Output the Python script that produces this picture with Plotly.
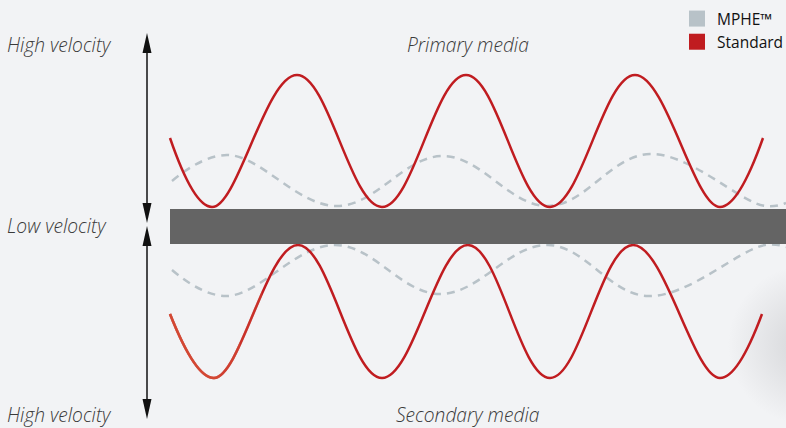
import plotly.graph_objects as go

# ---- data (x position, y position in chart units; y grows downward) ----
std_top_x = [170, 212, 297, 382, 466, 550, 635, 720, 763]
std_top_y = [138, 207, 75, 207, 75, 207, 75, 207, 138]

std_bot_x = [170, 214, 298, 382, 468, 550, 633, 720, 762]
std_bot_y = [314, 378, 245, 378, 245, 378, 245, 378, 314]

mphe_top_x = [172, 227, 337, 443, 548, 650, 765, 786]
mphe_top_y = [181, 155, 206, 156, 206, 154, 206, 203]

mphe_bot_x = [172, 226, 335, 440, 548, 648, 765, 786]
mphe_bot_y = [270, 296, 245, 294, 245, 296, 245, 247]

barrier_x = [170, 786]
barrier_y = [209, 244]

series_names = ["MPHE™", "Standard"]
side_labels = ["High velocity", "Low velocity", "High velocity"]
media_labels = ["Primary media", "Secondary media"]

# ---- styles ----
W, H = 786, 428
BG = "#f2f3f5"
RED = "#c01c20"
ORANGE = "#dc5a3c"
GREY = "#b8c2c8"
BAR = "#646464"
TXT = "#3a3a3a"
FONT = "Open Sans"
SMOOTH = 1.1

fig = go.Figure()

# soft shadow on the right
fig.add_trace(go.Scatter(
    x=[808], y=[345], mode="markers", showlegend=False, hoverinfo="skip",
    marker=dict(size=160, color=BG, line=dict(width=0),
                gradient=dict(type="radial", color="#d4d5d8")),
))

# barrier
fig.add_shape(type="rect", x0=barrier_x[0], x1=barrier_x[1], y0=barrier_y[0], y1=barrier_y[1],
              fillcolor=BAR, line=dict(width=0), layer="above")

line_common = dict(mode="lines", showlegend=False, hoverinfo="skip")
fig.add_trace(go.Scatter(x=mphe_top_x, y=mphe_top_y, line=dict(color=GREY, width=2.5, dash="8px,6px", shape="spline", smoothing=SMOOTH), **line_common))
fig.add_trace(go.Scatter(x=mphe_bot_x, y=mphe_bot_y, line=dict(color=GREY, width=2.5, dash="8px,6px", shape="spline", smoothing=SMOOTH), **line_common))
fig.add_trace(go.Scatter(x=std_top_x, y=std_top_y, line=dict(color=RED, width=2.5, shape="spline", smoothing=SMOOTH), **line_common))
fig.add_trace(go.Scatter(x=std_bot_x, y=std_bot_y, line=dict(color=RED, width=2.5, shape="spline", smoothing=SMOOTH), **line_common))

# orange tint fading out along the start of the lower curve (clipped overlay axes)
fade_ends = [262, 240, 220]
layout_axes = {}
for i, xe in enumerate(fade_ends):
    ax = f"x{i + 2}"
    layout_axes[f"xaxis{i + 2}"] = dict(domain=[0, xe / W], range=[0, xe], visible=False,
                                        fixedrange=True, anchor="y")
    fig.add_trace(go.Scatter(x=std_bot_x, y=std_bot_y, xaxis=ax, yaxis="y", opacity=0.35,
                             line=dict(color=ORANGE, width=2.5, shape="spline", smoothing=SMOOTH),
                             **line_common))

# legend entries (square swatches)
fig.add_trace(go.Scatter(x=[None], y=[None], mode="markers", name=series_names[0],
                         marker=dict(symbol="square", size=16, color=GREY)))
fig.add_trace(go.Scatter(x=[None], y=[None], mode="markers", name=series_names[1],
                         marker=dict(symbol="square", size=16, color=RED)))

# double arrows
ARROW_X = 147
arrows = [(33, 223), (226, 419)]
HEAD_L, HEAD_W = 20, 4.5
for top, bot in arrows:
    fig.add_shape(type="line", x0=ARROW_X, x1=ARROW_X, y0=top + HEAD_L - 2, y1=bot - HEAD_L + 2,
                  line=dict(color="#111111", width=1.5))
    fig.add_shape(type="path", path=f"M {ARROW_X} {top} L {ARROW_X - HEAD_W} {top + HEAD_L} L {ARROW_X + HEAD_W} {top + HEAD_L} Z",
                  fillcolor="#111111", line=dict(width=0))
    fig.add_shape(type="path", path=f"M {ARROW_X} {bot} L {ARROW_X - HEAD_W} {bot - HEAD_L} L {ARROW_X + HEAD_W} {bot - HEAD_L} Z",
                  fillcolor="#111111", line=dict(width=0))

# labels
label_font = dict(family=FONT, size=19.2, color=TXT, style="italic", weight=300)
for txt, yy in zip(side_labels, [44, 225, 414]):
    fig.add_annotation(x=5, y=yy, text=txt, showarrow=False, xanchor="left", yanchor="middle",
                       font=label_font)
for txt, yy in zip(media_labels, [44, 414]):
    fig.add_annotation(x=468, y=yy, text=txt, showarrow=False, xanchor="center", yanchor="middle",
                       font=label_font)

fig.update_layout(
    width=W, height=H,
    margin=dict(l=0, r=0, t=0, b=0, autoexpand=False),
    paper_bgcolor=BG, plot_bgcolor="rgba(0,0,0,0)",
    xaxis=dict(range=[0, W], visible=False, fixedrange=True),
    yaxis=dict(range=[H, 0], visible=False, fixedrange=True),
    showlegend=True,
    legend=dict(x=677 / W, y=1 - 2 / H, xanchor="left", yanchor="top",
                bgcolor="rgba(0,0,0,0)", font=dict(family=FONT, size=15.5, color="#111111"),
                itemsizing="trace", tracegroupgap=0),
    **layout_axes,
)

fig.write_html("out.html", config={"displayModeBar": False},
               post_script="document.body.style.margin='0';")
